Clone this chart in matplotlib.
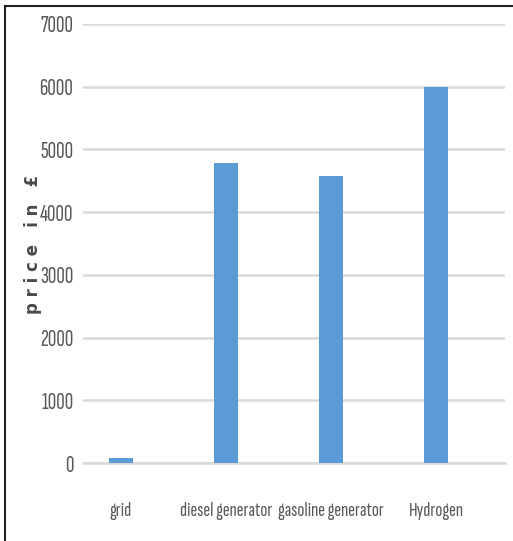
import matplotlib.pyplot as plt
from matplotlib.lines import Line2D

categories = ["grid", "diesel generator", "gasoline generator", "Hydrogen"]
prices = [80, 4780, 4570, 6000]
yticks = [0, 1000, 2000, 3000, 4000, 5000, 6000, 7000]

fig = plt.figure(figsize=(5.13, 5.41), dpi=100)
ax = fig.add_axes([83 / 513, 1 - 463 / 541, 422 / 513, 439 / 541])

ax.bar(range(len(categories)), prices, width=0.22, color="#5b9bd5", zorder=3)

ax.set_xlim(-0.362, 3.657)
ax.set_ylim(0, 7000)
ax.set_yticks(yticks)
ax.set_xticks(range(len(categories)))

tick_font = ["Sofia Sans Extra Condensed", "DejaVu Sans"]
ax.set_yticklabels([str(v) for v in yticks], family=tick_font, fontsize=17,
                   fontweight="light", color="#595959")
ax.set_xticklabels(categories, family=tick_font, fontsize=15,
                   fontweight="light", color="#595959")
ax.tick_params(axis="both", length=0)
ax.tick_params(axis="y", pad=7)
ax.tick_params(axis="x", pad=28)

ax.grid(axis="y", color="#d9d9d9", linewidth=1.8, zorder=0)
ax.set_axisbelow(True)
for side in ["top", "right", "left"]:
    ax.spines[side].set_visible(False)
ax.spines["bottom"].set_color("#d9d9d9")
ax.spines["bottom"].set_linewidth(1.8)

fig.text(33 / 513, 1 - 244 / 541, "p r i c e   i n   £", rotation=90,
         ha="center", va="center", fontsize=12, fontweight="bold", color="#4a4a4a")

# outer frame: top and left only
fig.add_artist(Line2D([5 / 513, 1], [1 - 6 / 541, 1 - 6 / 541], transform=fig.transFigure,
                      color="#222222", linewidth=1.5))
fig.add_artist(Line2D([5 / 513, 5 / 513], [0, 1 - 6 / 541], transform=fig.transFigure,
                      color="#222222", linewidth=1.5))

fig.savefig("out.png", dpi=100)
